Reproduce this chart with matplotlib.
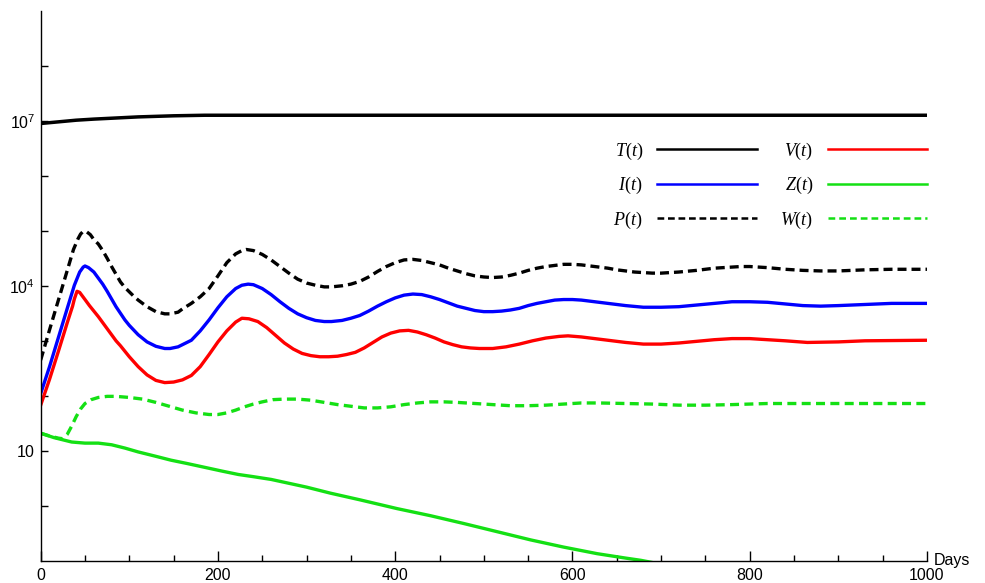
import numpy as np
import matplotlib
matplotlib.use("Agg")
import matplotlib.pyplot as plt

plt.rcParams['font.family'] = ['Liberation Sans', 'DejaVu Sans']
plt.rcParams['mathtext.fontset'] = 'custom'
plt.rcParams['mathtext.rm'] = 'Liberation Serif'
plt.rcParams['mathtext.it'] = 'Liberation Serif:italic'
plt.rcParams['lines.solid_joinstyle'] = 'round'
plt.rcParams['lines.dash_joinstyle'] = 'round'

# ---- data (log10 of values) ----
T_days = [0, 20, 40, 60, 85, 110, 150, 185, 250, 1000]
T_log = [6.95, 6.98, 7.01, 7.03, 7.05, 7.07, 7.09, 7.10, 7.10, 7.10]

P_days = [0, 10, 20, 30, 37, 42, 45, 48, 52, 56, 60, 65, 70, 75, 80, 85, 90, 95, 100, 105,
          110, 120, 130, 140, 146, 155, 160, 170, 180, 190, 200, 210, 220, 227, 232, 240,
          250, 260, 270, 280, 290, 300, 310, 320, 328, 340, 350, 360, 370, 380, 390, 400,
          410, 420, 430, 440, 450, 460, 470, 480, 490, 500, 510, 520, 530, 540, 550, 560,
          570, 580, 590, 600, 610, 620, 630, 640, 650, 660, 670, 680, 690, 700, 710, 720,
          740, 760, 780, 790, 800, 820, 840, 860, 880, 900, 930, 960, 1000]
P_log = [2.65, 3.20, 3.74, 4.28, 4.66, 4.85, 4.94, 4.99, 4.98, 4.93, 4.84, 4.76, 4.64, 4.50,
         4.35, 4.21, 4.07, 3.97, 3.89, 3.81, 3.74, 3.62, 3.53, 3.49, 3.49, 3.52, 3.58, 3.68,
         3.80, 3.95, 4.18, 4.42, 4.58, 4.64, 4.66, 4.64, 4.57, 4.47, 4.35, 4.23, 4.12, 4.05,
         4.01, 3.98, 3.98, 4.00, 4.03, 4.08, 4.16, 4.26, 4.35, 4.42, 4.47, 4.48, 4.46, 4.42,
         4.38, 4.32, 4.27, 4.22, 4.18, 4.16, 4.15, 4.16, 4.19, 4.23, 4.28, 4.32, 4.35, 4.37,
         4.39, 4.39, 4.38, 4.36, 4.34, 4.32, 4.29, 4.27, 4.25, 4.24, 4.23, 4.23, 4.24, 4.25,
         4.28, 4.32, 4.34, 4.35, 4.35, 4.33, 4.30, 4.28, 4.27, 4.27, 4.29, 4.30, 4.30]

I_days = [0, 10, 20, 30, 38, 44, 48, 50, 54, 60, 65, 70, 75, 80, 85, 90, 95, 100, 110, 120,
          130, 140, 146, 155, 170, 180, 190, 200, 210, 220, 227, 234, 240, 250, 260, 270,
          280, 290, 300, 310, 320, 328, 340, 350, 360, 370, 380, 390, 400, 410, 420, 430,
          440, 450, 460, 470, 480, 490, 500, 510, 520, 530, 540, 550, 560, 570, 580, 590,
          600, 610, 620, 640, 660, 680, 700, 720, 740, 760, 780, 800, 820, 840, 860, 880,
          900, 930, 960, 1000]
I_log = [2.04, 2.53, 3.06, 3.59, 4.01, 4.25, 4.34, 4.36, 4.33, 4.25, 4.14, 4.03, 3.90, 3.76,
         3.62, 3.50, 3.38, 3.28, 3.11, 2.98, 2.90, 2.86, 2.86, 2.89, 3.01, 3.18, 3.38, 3.60,
         3.80, 3.95, 4.01, 4.03, 4.02, 3.95, 3.84, 3.71, 3.59, 3.49, 3.42, 3.37, 3.35, 3.35,
         3.37, 3.41, 3.46, 3.54, 3.63, 3.71, 3.78, 3.83, 3.85, 3.84, 3.80, 3.75, 3.69, 3.63,
         3.59, 3.55, 3.53, 3.53, 3.54, 3.56, 3.59, 3.64, 3.68, 3.71, 3.74, 3.75, 3.75, 3.74,
         3.72, 3.68, 3.64, 3.61, 3.61, 3.62, 3.65, 3.68, 3.71, 3.71, 3.70, 3.67, 3.64, 3.63,
         3.64, 3.66, 3.68, 3.68]

V_days = [0, 10, 20, 30, 36, 38, 41, 44, 50, 55, 60, 65, 70, 75, 80, 85, 90, 95, 100, 110,
          120, 130, 140, 150, 160, 170, 180, 190, 200, 210, 220, 227, 235, 245, 255, 265,
          275, 285, 295, 305, 315, 325, 335, 345, 355, 365, 375, 385, 395, 405, 415, 425,
          435, 445, 455, 465, 475, 485, 495, 510, 525, 540, 555, 570, 585, 595, 610, 625,
          640, 660, 680, 700, 720, 740, 760, 780, 800, 820, 840, 865, 900, 930, 1000]
V_log = [1.83, 2.30, 2.81, 3.33, 3.63, 3.76, 3.90, 3.88, 3.75, 3.64, 3.54, 3.44, 3.33, 3.22,
         3.11, 3.00, 2.91, 2.81, 2.71, 2.53, 2.38, 2.28, 2.24, 2.25, 2.29, 2.37, 2.53, 2.75,
         2.98, 3.18, 3.34, 3.41, 3.40, 3.35, 3.24, 3.10, 2.96, 2.85, 2.77, 2.73, 2.71, 2.71,
         2.72, 2.75, 2.79, 2.87, 2.97, 3.07, 3.14, 3.18, 3.19, 3.16, 3.11, 3.05, 2.98, 2.93,
         2.89, 2.87, 2.86, 2.86, 2.89, 2.94, 3.00, 3.05, 3.08, 3.09, 3.07, 3.04, 3.01, 2.97,
         2.94, 2.94, 2.96, 2.99, 3.02, 3.04, 3.04, 3.02, 3.00, 2.97, 2.98, 3.00, 3.01]

W_days = [0, 10, 20, 25, 30, 35, 40, 45, 50, 57, 65, 75, 85, 100, 115, 130, 145, 160, 175,
          190, 200, 210, 220, 230, 240, 250, 262, 275, 290, 305, 320, 335, 350, 365, 380,
          395, 410, 425, 440, 455, 470, 490, 510, 530, 550, 570, 590, 610, 630, 660, 690,
          720, 750, 780, 820, 860, 900, 1000]
W_log = [1.32, 1.27, 1.23, 1.22, 1.30, 1.45, 1.62, 1.76, 1.86, 1.93, 1.97, 1.99, 1.99, 1.97,
         1.94, 1.88, 1.81, 1.74, 1.69, 1.66, 1.66, 1.69, 1.74, 1.80, 1.85, 1.89, 1.93, 1.94,
         1.94, 1.92, 1.88, 1.84, 1.81, 1.78, 1.78, 1.80, 1.84, 1.87, 1.89, 1.89, 1.88, 1.86,
         1.84, 1.82, 1.82, 1.83, 1.85, 1.87, 1.87, 1.86, 1.85, 1.83, 1.83, 1.84, 1.86, 1.86,
         1.86, 1.86]

Z_days = [0, 15, 25, 35, 50, 65, 80, 95, 110, 130, 147, 165, 185, 205, 223, 240, 260, 280,
          300, 327, 360, 402, 440, 477, 515, 553, 590, 628, 660, 677, 690]
Z_log = [1.32, 1.24, 1.20, 1.16, 1.14, 1.14, 1.11, 1.05, 0.98, 0.90, 0.83, 0.77, 0.70, 0.63,
         0.57, 0.53, 0.48, 0.41, 0.34, 0.23, 0.11, -0.05, -0.18, -0.32, -0.47, -0.62, -0.75,
         -0.87, -0.95, -0.99, -1.03]

labels = [r'$T(t)$', r'$I(t)$', r'$P(t)$', r'$V(t)$', r'$Z(t)$', r'$W(t)$']
ytick_vals = [1e1, 1e4, 1e7]
ytick_labels = [r'$\mathregular{10}$', r'$\mathregular{10^{4}}$', r'$\mathregular{10^{7}}$']
xtick_vals = [0, 200, 400, 600, 800, 1000]

GREEN = '#14e014'

fig = plt.figure(figsize=(9.85, 5.83), dpi=100)
ax = fig.add_axes([0.0413, 0.038, 0.8998, 0.9436])

lw = 2.4
def pw(v):
    return 10 ** np.asarray(v)

hT, = ax.plot(T_days, pw(T_log), color='black', lw=2.5, label=labels[0])
hI, = ax.plot(I_days, pw(I_log), color='#0000ff', lw=lw, label=labels[1])
hP, = ax.plot(P_days, pw(P_log), color='black', lw=lw, dashes=(2.7, 1.5), label=labels[2])
hV, = ax.plot(V_days, pw(V_log), color='#ff0000', lw=lw, label=labels[3])
hZ, = ax.plot(Z_days, pw(Z_log), color=GREEN, lw=lw, label=labels[4])
hW, = ax.plot(W_days, pw(W_log), color=GREEN, lw=lw, dashes=(2.7, 1.6), label=labels[5])

ax.set_yscale('log')
ax.set_ylim(1e-1, 1e9)
ax.set_xlim(0, 1000)

ax.yaxis.set_major_locator(matplotlib.ticker.FixedLocator([10.0 ** k for k in range(0, 9)]))
ax.yaxis.set_minor_locator(matplotlib.ticker.NullLocator())

def yfmt(v, p):
    for t, s in zip(ytick_vals, ytick_labels):
        if abs(v - t) / t < 1e-6:
            return s
    return ''
ax.yaxis.set_major_formatter(matplotlib.ticker.FuncFormatter(yfmt))

ax.set_xticks(xtick_vals)
ax.set_xticklabels([str(v) for v in xtick_vals])
ax.xaxis.set_minor_locator(matplotlib.ticker.MultipleLocator(50))

ax.tick_params(axis='both', which='major', direction='in', labelsize=11.5, width=1.0)
ax.tick_params(axis='x', which='major', length=7, pad=5)
ax.tick_params(axis='x', which='minor', direction='in', length=4, width=1.0)
ax.tick_params(axis='y', which='major', length=5, pad=4)

for s in ['top', 'right']:
    ax.spines[s].set_visible(False)
for s in ['left', 'bottom']:
    ax.spines[s].set_linewidth(1.0)

ax.text(1.008, 0.0, 'Days', transform=ax.transAxes, ha='left', va='center', fontsize=11.5)

leg = ax.legend(handles=[hT, hI, hP, hV, hZ, hW], ncol=2, markerfirst=False,
                loc='upper right', bbox_to_anchor=(1.0, 0.764), frameon=False,
                fontsize=13, handlelength=5.5, handletextpad=0.8, columnspacing=1.3,
                labelspacing=0.74, borderpad=0, borderaxespad=0)
for line in leg.get_lines():
    line.set_linewidth(1.8)

fig.savefig('out.png', dpi=100)
